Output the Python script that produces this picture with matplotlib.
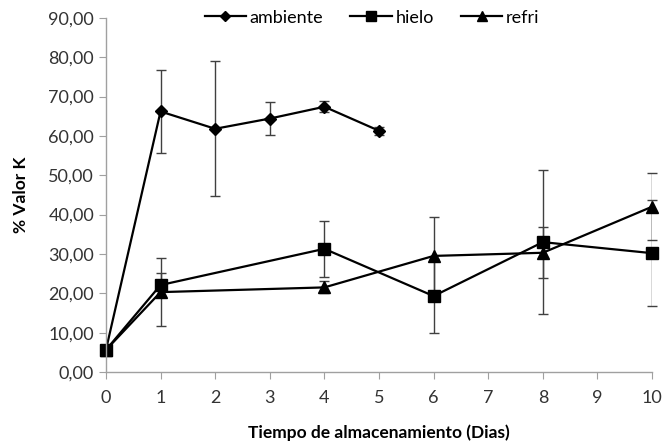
import matplotlib
matplotlib.use("Agg")
import matplotlib.pyplot as plt
from matplotlib.ticker import FuncFormatter
from matplotlib.lines import Line2D

plt.rcParams['font.family'] = ['Lato', 'DejaVu Sans']

amb_x = [0, 1, 2, 3, 4, 5]
amb_y = [5.6, 66.2, 61.8, 64.4, 67.4, 61.3]
amb_err = [0, 10.6, 17.2, 4.1, 1.4, 1.0]

hie_x = [0, 1, 4, 6, 8, 10]
hie_y = [5.6, 22.1, 31.3, 19.3, 33.0, 30.2]
hie_err = [0, 3.0, 7.1, 9.5, 18.3, 13.4]

ref_x = [0, 1, 4, 6, 8, 10]
ref_y = [5.6, 20.3, 21.5, 29.5, 30.3, 42.0]
ref_err = [0, 8.6, 1.5, 10.0, 6.5, 8.5]

fig = plt.figure(figsize=(6.62, 4.45), dpi=100)
ax = fig.add_axes([0.160, 0.164, 0.825, 0.796])

ecol = '#404040'
kw = dict(color='black', lw=1.6, ecolor=ecol, elinewidth=1.0, capsize=3.5, capthick=1.0)
series = [
    (amb_x, amb_y, amb_err, 'D', 6.5, 'ambiente'),
    (hie_x, hie_y, hie_err, 's', 8, 'hielo'),
    (ref_x, ref_y, ref_err, '^', 8, 'refri'),
]
handles = []
for xs, ys, es, m, ms, lab in series:
    ax.errorbar(xs, ys, yerr=es, marker=m, ms=ms, **kw)
    handles.append(Line2D([], [], color='black', lw=1.6, marker=m, ms=ms * 0.85, label=lab))

ax.set_xlim(0, 10)
ax.set_ylim(0, 90)
ax.set_xticks(range(0, 11))
ax.set_yticks(range(0, 91, 10))
ax.yaxis.set_major_formatter(FuncFormatter(lambda v, p: f"{v:.2f}".replace('.', ',')))
for s in ['top', 'right']:
    ax.spines[s].set_visible(False)
for s in ['left', 'bottom']:
    ax.spines[s].set_color('#a0a0a0')
    ax.spines[s].set_linewidth(1.0)
ax.tick_params(axis='both', colors='#a0a0a0', labelcolor='#333333', labelsize=13,
               direction='out', length=5)
ax.tick_params(axis='x', pad=8)
for line in ax.lines:
    line.set_clip_on(False)

ax.set_xlabel('Tiempo de almacenamiento (Dias)', fontsize=12.5, fontweight='bold', labelpad=13)
ax.set_ylabel('% Valor K', fontsize=12.5, fontweight='bold', labelpad=14)

fig.legend(handles=handles, loc='upper center', bbox_to_anchor=(0.562, 1.015), ncol=3,
           frameon=False, fontsize=13, handlelength=2.3, columnspacing=1.5,
           handletextpad=0.2)

fig.savefig('out.png', dpi=100)
